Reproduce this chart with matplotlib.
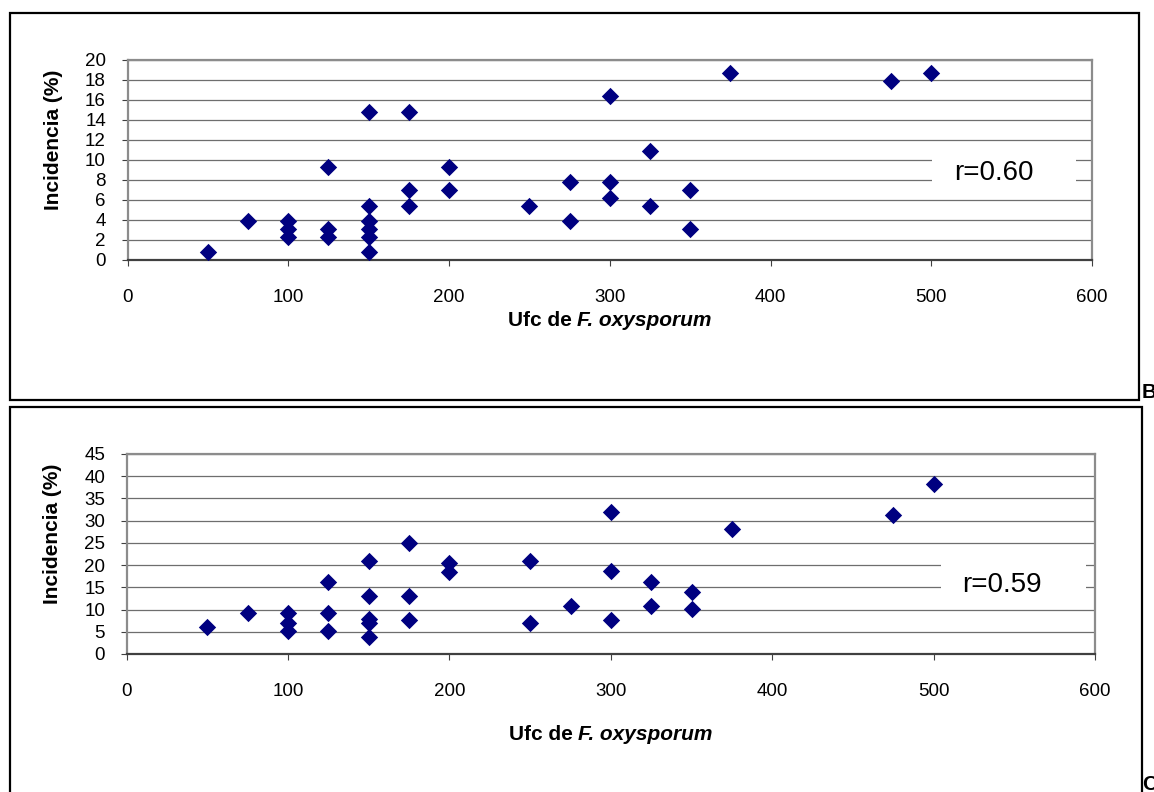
import numpy as np
import matplotlib
matplotlib.use('Agg')
import matplotlib.pyplot as plt
import matplotlib.patches as patches
from matplotlib.offsetbox import TextArea, HPacker, AnchoredOffsetbox

plt.rcParams['font.family'] = ['Liberation Sans', 'DejaVu Sans']

# panel B: incidence (%) vs colony forming units
top_x = [50, 75, 100, 100, 100, 125, 125, 125, 150, 150, 150, 150, 150, 150,
         175, 175, 175, 200, 200, 250, 275, 275, 300, 300, 300, 325, 325,
         350, 350, 375, 475, 500]
top_y = [0.8, 3.9, 3.9, 3.1, 2.3, 9.3, 3.1, 2.3, 14.8, 5.4, 3.9, 3.1, 2.3, 0.8,
         14.8, 7.0, 5.4, 9.3, 7.0, 5.4, 7.8, 3.9, 16.4, 7.8, 6.2, 10.9, 5.4,
         7.0, 3.1, 18.7, 17.9, 18.7]
top_r = 'r=0.60'

# panel C
bot_x = [50, 75, 100, 100, 100, 125, 125, 125, 150, 150, 150, 150, 150,
         175, 175, 175, 200, 200, 250, 250, 275, 300, 300, 300, 325, 325,
         350, 350, 375, 475, 500]
bot_y = [6.1, 9.3, 9.3, 7.0, 5.2, 16.3, 9.3, 5.2, 21.0, 13.1, 7.9, 7.0, 3.8,
         24.9, 13.1, 7.7, 20.4, 18.5, 21.0, 6.9, 10.9, 32.0, 18.7, 7.7, 16.3, 10.9,
         14.0, 10.1, 28.1, 31.3, 38.2]
bot_r = 'r=0.59'

x_ticks = [0, 100, 200, 300, 400, 500, 600]
top_yticks = list(range(0, 21, 2))
bot_yticks = list(range(0, 46, 5))

W, H = 1154, 792


def px_axes(fig, l, r, t, b):
    return fig.add_axes([l / W, 1 - b / H, (r - l) / W, (b - t) / H])


def draw_panel(ax, xs, ys, yticks, rtext, rbox, rpos, xlab_y):
    ax.set_xlim(0, 600)
    ax.set_ylim(yticks[0], yticks[-1])
    ax.set_xticks(x_ticks)
    ax.set_yticks(yticks)
    ax.set_axisbelow(True)
    ax.grid(axis='y', color='#6e6e6e', linewidth=0.9)
    for s in ['top', 'right', 'left']:
        ax.spines[s].set_color('#8c8c8c')
        ax.spines[s].set_linewidth(1.6)
    ax.spines['bottom'].set_color('#404040')
    ax.spines['bottom'].set_linewidth(1.6)
    ax.tick_params(axis='x', direction='out', length=4, width=0.8,
                   color='#404040', pad=17, labelsize=13.5)
    ax.tick_params(axis='y', direction='out', length=4.5, width=0.8,
                   color='#404040', pad=11, labelsize=13.5)

    # white box behind the r value hides the gridlines
    ax.add_patch(patches.Rectangle((rbox[0], rbox[1]), rbox[2], rbox[3],
                                   facecolor='white', edgecolor='none', zorder=1))
    ax.scatter(xs, ys, marker='D', s=78, color='#000080', zorder=3, linewidths=0)
    ax.text(rpos[0], rpos[1], rtext, fontsize=20, ha='center', va='center', zorder=4)

    ax.set_ylabel('Incidencia (%)', fontsize=15, fontweight='bold')
    ax.yaxis.set_label_coords(-0.067, 0.6)

    box = HPacker(children=[
        TextArea('Ufc de', textprops=dict(fontsize=15, fontweight='bold')),
        TextArea('F. oxysporum', textprops=dict(fontsize=15, fontweight='bold',
                                                 fontstyle='italic'))],
        align='baseline', pad=0, sep=4)
    lab = AnchoredOffsetbox(loc='center', child=box, pad=0, borderpad=0, frameon=False,
                            bbox_to_anchor=(0.5, xlab_y), bbox_transform=ax.transAxes)
    ax.add_artist(lab)


fig = plt.figure(figsize=(W / 100, H / 100), dpi=100)

# outer frames
fig.add_artist(patches.Rectangle((10 / W, 1 - 400 / H), 1129 / W, 387 / H,
                                 transform=fig.transFigure, fill=False,
                                 edgecolor='black', linewidth=1.6))
fig.add_artist(patches.Rectangle((10 / W, -10 / H), 1132 / W, (H - 407 + 10) / H,
                                 transform=fig.transFigure, fill=False,
                                 edgecolor='black', linewidth=1.6))
fig.text(1142 / W, 1 - 392 / H, 'B', fontsize=15, fontweight='bold', va='center', ha='left')
fig.text(1142 / W, 1 - 784 / H, 'C', fontsize=15, fontweight='bold', va='center', ha='left')

ax1 = px_axes(fig, 127.5, 1092, 60, 260)
draw_panel(ax1, top_x, top_y, top_yticks, top_r,
           (500.5, 6.6, 89.5, 4.8), (539, 8.75), -0.30)

ax2 = px_axes(fig, 126.7, 1095, 454, 654)
draw_panel(ax2, bot_x, bot_y, bot_yticks, bot_r,
           (504.4, 11.5, 90.2, 12), (542.5, 15.5), -0.405)

fig.savefig('out.png', dpi=100)
